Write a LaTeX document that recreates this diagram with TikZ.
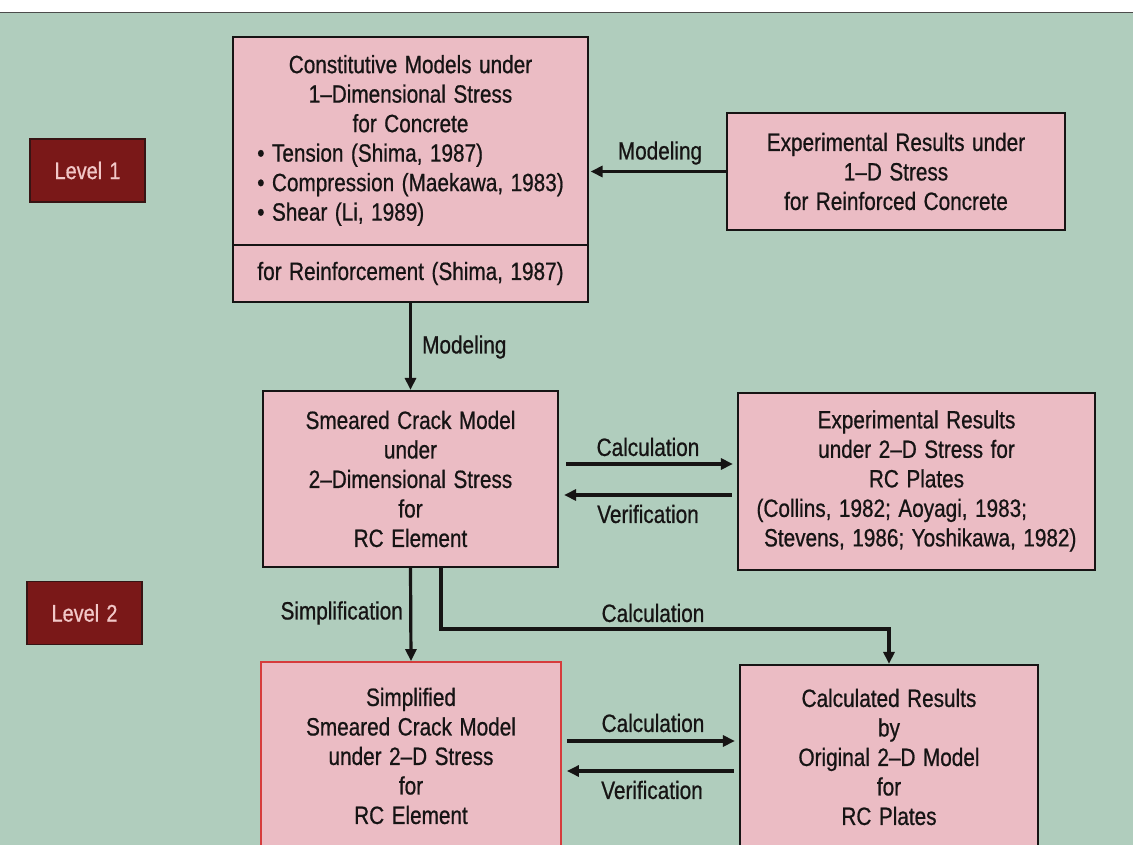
\documentclass[tikz,border=0pt]{standalone}
\usepackage{fontspec}
\setmainfont{Liberation Sans}[FakeStretch=0.83,WordSpace=1.3,FakeBold=0.7]
\usetikzlibrary{arrows.meta,calc}
\definecolor{bg}{RGB}{176,205,189}
\definecolor{boxpink}{RGB}{235,188,196}
\definecolor{lvl}{RGB}{122,24,24}
\definecolor{lvlborder}{RGB}{55,20,20}
\definecolor{lvltext}{RGB}{242,200,200}
\definecolor{ink}{RGB}{22,20,20}
\definecolor{redline}{RGB}{214,60,60}
\begin{document}
\begin{tikzpicture}[x=1pt,y=-1pt,
  every node/.style={font=\fontsize{25}{29.5}\selectfont, text=ink, inner sep=0pt},
  pbox/.style={draw=ink, line width=2.2pt, fill=boxpink, align=center},
  lvlbox/.style={draw=lvlborder, line width=1.8pt, fill=lvl, text=lvltext,
    minimum width=115pt, minimum height=63pt, font=\fontsize{24}{28}\selectfont},
  arr/.style={draw=ink, line width=3.2pt, -{Triangle[length=12pt,width=11pt]}}]
\useasboundingbox (0,0) rectangle (1133,845);
\clip (0,0) rectangle (1133,845);
\fill[white] (0,0) rectangle (1133,845);
\fill[bg] (0,12) rectangle (1133,845);
\draw[black!70, line width=1.2pt] (0,12.5) -- (1133,12.5);

% level labels
\node[lvlbox] (lv1) at (87.5,170.5) {Level 1};
\node[lvlbox] (lv2) at (84.5,613) {Level 2};

% boxes
\node[pbox, minimum width=355pt, minimum height=208pt] (box1a) at (410.5,141)
  {\begin{tabular}{@{}l@{}}
   \multicolumn{1}{@{}c@{}}{Constitutive Models under}\\
   \multicolumn{1}{@{}c@{}}{1–Dimensional Stress}\\
   \multicolumn{1}{@{}c@{}}{for Concrete}\\
   • Tension (Shima, 1987)\\
   • Compression (Maekawa, 1983)\\
   • Shear (Li, 1989)
   \end{tabular}};
\node[pbox, minimum width=355pt, minimum height=57pt] (box1b) at (410.5,273.5)
  {for Reinforcement (Shima, 1987)};
\node[pbox, minimum width=338pt, minimum height=117pt] (box2) at (896,171.5)
  {Experimental Results under\\1–D Stress\\for Reinforced Concrete};
\node[pbox, minimum width=295pt, minimum height=176pt] (box3) at (410.5,479)
  {Smeared Crack Model\\under\\2–Dimensional Stress\\for\\RC Element};
\node[pbox, minimum width=357pt, minimum height=177pt] (box4) at (916.5,481.5)
  {\begin{tabular}{@{}l@{}}
   \multicolumn{1}{@{}c@{}}{Experimental Results}\\
   \multicolumn{1}{@{}c@{}}{under 2–D Stress for}\\
   \multicolumn{1}{@{}c@{}}{RC Plates}\\
   (Collins, 1982; Aoyagi, 1983;\\
   \ Stevens, 1986; Yoshikawa, 1982)
   \end{tabular}};
\node[pbox, draw=redline, line width=1.8pt, minimum width=300pt, minimum height=188pt] (box5) at (411,756)
  {Simplified\\Smeared Crack Model\\under 2–D Stress\\for\\RC Element};
\node[pbox, minimum width=298pt, minimum height=184pt] (box6) at (889,757)
  {Calculated Results\\by\\Original 2–D Model\\for\\RC Plates};

% connectors
\draw[arr, shorten >=1.5pt] (box2.west) -- (box2.west -| box1a.east);
\node (lm1) at (660,153) {Modeling};

\draw[arr] (box1b.south) -- (box3.north);
\node[anchor=west] (lm2) at (422,347) {Modeling};

\coordinate (c1) at ($(box3.east)+(7,-15)$);
\draw[arr, shorten >=4pt] (c1) -- (c1 -| box4.west);
\node (lc1) at (648,447) {Calculation};
\coordinate (v1) at ($(box4.west)+(-5,13.5)$);
\draw[arr, shorten >=5pt] (v1) -- (v1 -| box3.east);
\node (lv1t) at (648,514) {Verification};

\draw[arr] (box3.south) -- (box5.north);
\node[anchor=east] (ls) at (403,613) {Simplification};

\coordinate (e1) at (441,629);
\draw[arr] (box3.south -| e1) -- (e1) -| (box6.north);
\node (lc2) at (653,613) {Calculation};

\coordinate (c2) at ($(box5.east)+(5,-15)$);
\draw[arr, shorten >=4pt] (c2) -- (c2 -| box6.west);
\node (lc3) at (653,723) {Calculation};
\coordinate (v2) at ($(box6.west)+(-5,14)$);
\draw[arr, shorten >=5pt] (v2) -- (v2 -| box5.east);
\node (lv2t) at (652,790) {Verification};
\end{tikzpicture}
\end{document}
